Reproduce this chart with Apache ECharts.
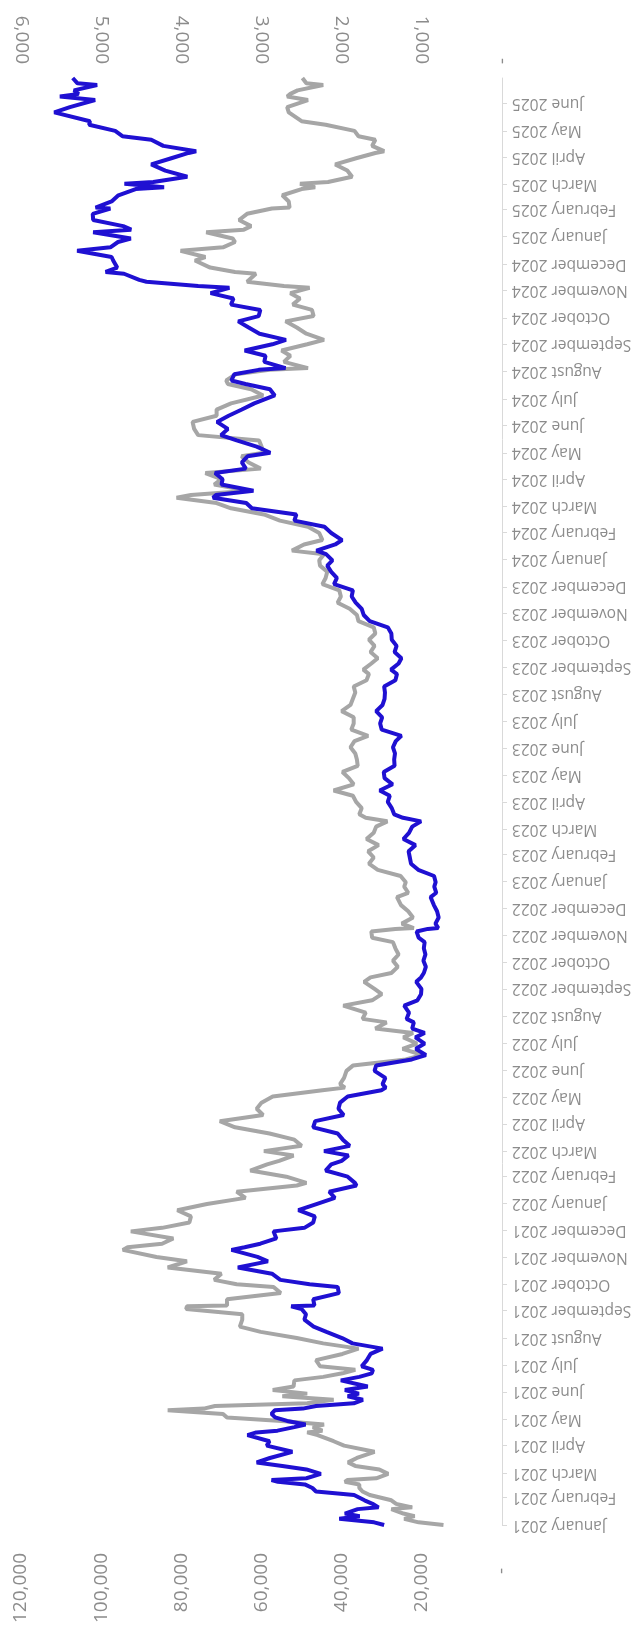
<!DOCTYPE html>
<html><head><meta charset="utf-8">
<script src="https://cdn.jsdelivr.net/npm/echarts@6/dist/echarts.min.js"></script>
<style>html,body{margin:0;padding:0;background:#fff}#c{width:639px;height:1632px}</style>
</head><body><div id="c"></div>
<script>
const dates = [
'2021-01-01','2021-01-04','2021-01-08','2021-01-11','2021-01-14','2021-01-19','2021-01-21','2021-01-25','2021-01-29',
'2021-02-04','2021-02-08','2021-02-12','2021-02-16','2021-02-19','2021-02-21','2021-02-23','2021-02-28',
'2021-03-05','2021-03-09','2021-03-13','2021-03-18','2021-03-25',
'2021-04-01','2021-04-06','2021-04-13','2021-04-16','2021-04-18','2021-04-22','2021-04-25','2021-04-29',
'2021-05-03','2021-05-07','2021-05-11','2021-05-13','2021-05-16','2021-05-19','2021-05-23','2021-05-27','2021-05-30',
'2021-06-03','2021-06-07','2021-06-14','2021-06-18','2021-06-22','2021-06-26','2021-06-30',
'2021-07-07','2021-07-14','2021-07-20','2021-07-26',
'2021-08-01','2021-08-08','2021-08-14','2021-08-22','2021-08-28',
'2021-09-03','2021-09-06','2021-09-07','2021-09-14','2021-09-21','2021-09-28',
'2021-10-01','2021-10-06','2021-10-13','2021-10-20','2021-10-27',
'2021-11-01','2021-11-09','2021-11-12','2021-11-16','2021-11-22','2021-11-30',
'2021-12-04','2021-12-10','2021-12-17','2021-12-24','2021-12-31',
'2022-01-07','2022-01-14','2022-01-21','2022-01-24','2022-01-31',
'2022-02-07','2022-02-14','2022-02-18','2022-02-24',
'2022-03-01','2022-03-07','2022-03-14','2022-03-21','2022-03-28',
'2022-04-04','2022-04-11','2022-04-18','2022-04-25',
'2022-05-02','2022-05-09','2022-05-12','2022-05-16','2022-05-23','2022-05-31',
'2022-06-06','2022-06-13','2022-06-18','2022-06-25',
'2022-07-01','2022-07-08','2022-07-13','2022-07-18','2022-07-25','2022-07-29',
'2022-08-05','2022-08-13','2022-08-19','2022-08-26',
'2022-09-01','2022-09-09','2022-09-14','2022-09-19','2022-09-26',
'2022-10-03','2022-10-10','2022-10-17','2022-10-24','2022-10-29',
'2022-11-05','2022-11-08','2022-11-09','2022-11-14','2022-11-21','2022-11-28',
'2022-12-05','2022-12-14','2022-12-19','2022-12-26','2022-12-31',
'2023-01-07','2023-01-14','2023-01-21','2023-01-28',
'2023-02-04','2023-02-11','2023-02-18','2023-02-25',
'2023-03-04','2023-03-10','2023-03-14','2023-03-18','2023-03-25',
'2023-04-01','2023-04-08','2023-04-14','2023-04-21','2023-04-28',
'2023-05-05','2023-05-12','2023-05-19','2023-05-26',
'2023-06-02','2023-06-09','2023-06-15','2023-06-22','2023-06-29',
'2023-07-06','2023-07-13','2023-07-20','2023-07-27',
'2023-08-03','2023-08-10','2023-08-17','2023-08-24','2023-08-29',
'2023-09-05','2023-09-11','2023-09-18','2023-09-25',
'2023-10-02','2023-10-09','2023-10-16','2023-10-23','2023-10-30',
'2023-11-06','2023-11-13','2023-11-20','2023-11-27',
'2023-12-04','2023-12-11','2023-12-18','2023-12-25','2023-12-31',
'2024-01-07','2024-01-11','2024-01-18','2024-01-23','2024-01-31',
'2024-02-07','2024-02-14','2024-02-21','2024-02-28',
'2024-03-05','2024-03-11','2024-03-14','2024-03-19','2024-03-26',
'2024-04-01','2024-04-08','2024-04-13','2024-04-20','2024-04-27',
'2024-05-01','2024-05-08','2024-05-15','2024-05-21','2024-05-28',
'2024-06-05','2024-06-12','2024-06-19','2024-06-26',
'2024-07-05','2024-07-12','2024-07-18','2024-07-22','2024-07-29',
'2024-08-03','2024-08-05','2024-08-12','2024-08-19','2024-08-25',
'2024-09-01','2024-09-06','2024-09-13','2024-09-20','2024-09-27',
'2024-10-03','2024-10-10','2024-10-16','2024-10-23','2024-10-29',
'2024-11-04','2024-11-06','2024-11-11','2024-11-13','2024-11-20','2024-11-22','2024-11-27',
'2024-12-05','2024-12-09','2024-12-16','2024-12-20','2024-12-26','2024-12-30',
'2025-01-06','2025-01-09','2025-01-13','2025-01-20','2025-01-27',
'2025-02-02','2025-02-03','2025-02-10','2025-02-17','2025-02-24','2025-02-26',
'2025-03-02','2025-03-04','2025-03-10','2025-03-17','2025-03-24','2025-03-31',
'2025-04-06','2025-04-08','2025-04-14','2025-04-21','2025-04-25',
'2025-05-01','2025-05-08','2025-05-12','2025-05-22','2025-05-28',
'2025-06-05','2025-06-09','2025-06-12','2025-06-16','2025-06-22','2025-06-24','2025-06-30'
];
const btc = [
29400,31900,40600,35500,39200,36000,30800,32300,34300,
36900,46400,47300,49200,55900,57500,48800,45200,
48800,54800,61200,57900,52300,
58700,58000,63500,61300,56000,51800,49000,53600,
56600,57500,56700,49700,46400,37000,34700,38500,35700,
39200,33500,40200,35600,32500,32200,35000,
33700,32800,29800,37300,
39900,43800,47000,49300,48900,
50000,52600,46800,47100,40700,41000,
48000,55300,57400,65900,58400,
61000,67500,64200,60300,56300,57000,
49300,47100,46700,50800,46300,
41700,43100,36300,36700,38500,
44000,42600,40000,38300,
44400,38000,39700,41000,47100,
46600,39500,40800,40400,
38500,30100,29000,29800,29100,31800,
31400,22500,19000,21500,
19300,21600,19300,22400,22000,23800,
23200,24400,21100,20200,
20100,21400,20200,19500,19000,
19600,19100,19500,19300,20800,
21300,18500,15900,16600,15800,16200,
17000,17800,16400,16900,16550,
16950,20900,22700,23000,
23300,21600,24600,23200,
22400,20200,24700,26900,27500,
28500,28000,30500,27300,29300,
29500,26800,26900,26700,
27200,26500,25100,30000,30400,
29900,31400,29800,29300,
29200,29400,26600,26200,27700,
25800,25100,26800,26300,
27500,27600,28500,33000,34500,
35000,36500,37500,37200,
41900,41200,42600,43600,42300,
43900,46300,41600,39900,42600,
44300,51800,51300,62400,
63800,72100,71400,62000,70000,
69700,71600,63900,64900,63500,
57800,61200,66200,70100,68400,
71100,68200,64900,61800,
56700,57900,64000,67500,66800,
60700,54000,59300,59000,64200,
57300,53900,60500,63200,65800,
60700,60300,67600,67000,72700,
68000,75800,88700,90500,94300,98900,96000,
97000,97400,106000,97700,95800,92600,
102000,92500,94500,102000,102100,
97700,101400,97400,95700,91400,84300,
94200,87000,78500,84000,87500,82500,
78200,76300,84500,87500,94700,
96500,103000,102800,111700,107800,
101500,110300,105600,106800,101000,105900,107100
];
const eth = [
730,1040,1220,1090,1230,1380,1120,1320,1380,
1650,1740,1780,1780,1960,1930,1570,1420,
1530,1830,1920,1810,1590,
1970,2100,2300,2430,2240,2360,2220,2750,
3430,3480,4170,3720,3580,2430,2100,2740,2430,
2860,2600,2590,2230,1990,1830,2270,
2320,1990,1790,2230,
2560,3010,3270,3240,3240,
3940,3930,3430,3430,2760,2850,
3310,3590,3500,4170,3930,
4310,4730,4670,4240,4100,4630,
4240,3900,3880,4050,3680,
3200,3310,2560,2440,2690,
3140,2930,2780,2600,
2970,2500,2590,2900,3330,
3520,2980,3060,3000,
2860,2240,1960,2020,1970,1940,
1860,1200,990,1240,
1060,1230,1110,1580,1440,1740,
1700,1980,1620,1500,
1590,1720,1640,1380,1300,
1360,1290,1330,1360,1620,
1630,1330,1100,1250,1110,1170,
1260,1310,1170,1220,1200,
1265,1550,1660,1600,
1670,1540,1690,1600,
1570,1430,1700,1780,1750,
1820,1860,2100,1850,1910,
1990,1800,1810,1830,
1890,1840,1670,1880,1850,
1850,2000,1890,1860,
1830,1850,1690,1660,1730,
1630,1550,1640,1590,
1660,1580,1600,1790,1810,
1900,2050,2010,2030,
2240,2200,2180,2270,2280,
2220,2620,2470,2240,2280,
2420,2770,2970,3380,
3560,4060,3880,3160,3590,
3500,3700,3010,3160,3250,
2970,3000,3030,3790,3840,
3860,3560,3560,3380,
2980,3130,3420,3440,3320,
2900,2420,2720,2640,2750,
2430,2220,2440,2560,2700,
2350,2370,2610,2520,2640,
2400,2720,3180,3190,3070,3330,3640,
3830,3700,4010,3480,3330,3360,
3690,3220,3130,3280,3180,
2870,2650,2660,2740,2500,2330,
2520,2170,1870,1930,2080,1820,
1580,1470,1620,1580,1790,
1840,2200,2500,2660,2680,
2420,2680,2640,2550,2230,2440,2490
];
const btcTicks = [0, 20000, 40000, 60000, 80000, 100000, 120000];
const ethTicks = [0, 1000, 2000, 3000, 4000, 5000, 6000];
const monthNames = ['January','February','March','April','May','June','July','August','September','October','November','December'];
const startDate = '2021-01-01';
const endDate = '2025-06-30';

function ts(s){ const p = s.split('-').map(Number); return Date.UTC(p[0], p[1]-1, p[2]); }
const monthTicks = [];
for (let y = 2021; y <= 2025; y++) for (let m = 0; m < 12; m++) {
  const t = Date.UTC(y, m, 1);
  if (t >= ts(startDate) && t <= ts(endDate)) monthTicks.push(t);
}
function fmtNum(v){ return v === 0 ? '-' : v.toLocaleString('en-US'); }
const labelColor = '#8c8c8c';
const font = "'Open Sans', sans-serif";

const chart = echarts.init(document.getElementById('c'), null, {renderer: 'canvas'});
chart.setOption({
  animation: false,
  backgroundColor: '#ffffff',
  grid: {left: 21, right: 137, top: 78, bottom: 107, containLabel: false},
  yAxis: {
    type: 'value', position: 'right', scale: true,
    min: ts(startDate), max: ts(endDate),
    axisLine: {show: true, lineStyle: {color: '#d9d9d9', width: 1}},
    axisTick: {show: true, customValues: monthTicks, length: 5, lineStyle: {color: '#d9d9d9'}},
    splitLine: {show: false},
    axisLabel: {
      customValues: monthTicks, rotate: 180, margin: 10,
      color: labelColor, fontSize: 15.5, fontFamily: font,
      formatter: function(v){ const d = new Date(v); return monthNames[d.getUTCMonth()] + ' ' + d.getUTCFullYear(); }
    }
  },
  xAxis: [
    {
      type: 'value', position: 'bottom', inverse: true,
      min: btcTicks[0], max: btcTicks[btcTicks.length-1], interval: btcTicks[1]-btcTicks[0],
      axisLine: {show: false}, axisTick: {show: false}, splitLine: {show: false},
      axisLabel: {rotate: 90, margin: 28, color: labelColor, fontSize: 19, fontFamily: font,
        formatter: function(v){ return v === 0 ? '-   ' : fmtNum(v); }}
    },
    {
      type: 'value', position: 'top', inverse: true,
      min: ethTicks[0], max: ethTicks[ethTicks.length-1], interval: ethTicks[1]-ethTicks[0],
      axisLine: {show: false}, axisTick: {show: false}, splitLine: {show: false},
      axisLabel: {rotate: 90, margin: 14, color: labelColor, fontSize: 19, fontFamily: font,
        formatter: fmtNum}
    }
  ],
  series: [
    {
      name: 'ETH', type: 'line', xAxisIndex: 1, yAxisIndex: 0,
      showSymbol: false, symbol: 'none',
      lineStyle: {color: '#a6a6a6', width: 4},
      data: dates.map((d, i) => [eth[i], ts(d)])
    },
    {
      name: 'BTC', type: 'line', xAxisIndex: 0, yAxisIndex: 0,
      showSymbol: false, symbol: 'none',
      lineStyle: {color: '#1f10d2', width: 4},
      data: dates.map((d, i) => [btc[i], ts(d)])
    }
  ]
});
</script>
</body></html>
